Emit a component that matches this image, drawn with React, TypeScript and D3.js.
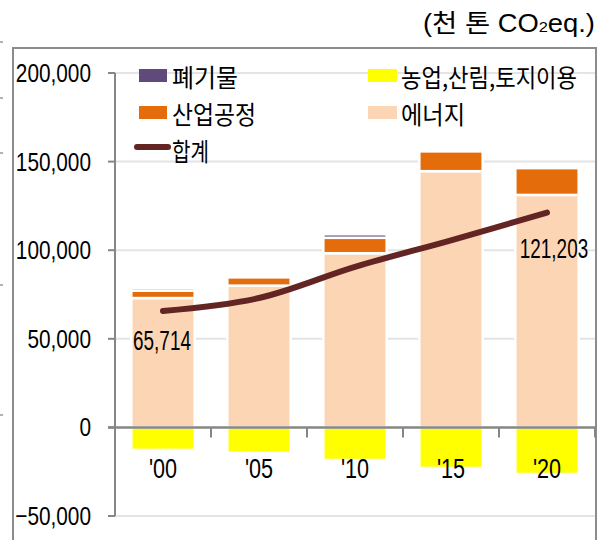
import React from "react";
import * as d3 from "d3";

const years = ["'00", "'05", "'10", "'15", "'20"];
const energy = [73000, 80000, 98300, 144600, 131200];
const industrial = [4200, 4800, 8700, 11300, 15200];
const waste = [1500, 1400, 2000, 1100, 700];
const lulucf = [-12700, -14400, -18400, -22900, -26300];
const total = [65714, 73000, 90600, 105600, 121203];
const yTicks = [-50000, 0, 50000, 100000, 150000, 200000];
const labelled = [0, 4];

const seriesKeys = ["energy", "industrial", "waste", "lulucf"];
const seriesColors: Record<string, string> = {
  energy: "#FCD5B5",
  industrial: "#E46C0A",
  waste: "#604A7B",
  lulucf: "#FFFF00",
};

const W = 604;
const H = 540;
const NUM_FONT = "'Liberation Sans', Arial, sans-serif";
const KR_FONT = "'Noto Sans CJK KR', sans-serif";

export default function App() {
  const x = d3.scaleBand<string>().domain(years).range([115, 595]).paddingInner(0.34).paddingOuter(0.17);
  const y = d3.scaleLinear().domain([-50000, 200000]).range([516, 73]);

  const rows = years.map((yr, i) => ({
    year: yr,
    energy: energy[i],
    industrial: industrial[i],
    waste: waste[i],
    lulucf: lulucf[i],
  }));
  const stacked = d3
    .stack<any>()
    .keys(seriesKeys)
    .offset(d3.stackOffsetDiverging)(rows);

  const line = d3
    .line<number>()
    .x((_, i) => (x(years[i]) as number) + x.bandwidth() / 2)
    .y((d) => y(d))
    .curve(d3.curveCatmullRom.alpha(0.5));

  const step = x.step();
  const boundaries = d3.range(years.length + 1).map((i) => 115 + i * step);
  const fmt = d3.format(",");

  const edgeMarks = [42, 98, 153, 285, 415];

  return (
    <svg width={W} height={H} style={{ position: "absolute", left: 0, top: 0, background: "#fff" }}>
      {/* left edge artifacts */}
      {edgeMarks.map((m) => (
        <line key={m} x1={0} x2={3} y1={m} y2={m} stroke="#999" strokeWidth={1.5} />
      ))}
      {/* unit */}
      <text x={423} y={32} fontFamily={`'Liberation Sans', ${KR_FONT}`} fontSize={25} fill="#000" textLength={172} lengthAdjust="spacingAndGlyphs">
        (천 톤 CO<tspan fontSize={15}>2</tspan>eq.)
      </text>
      {/* frame */}
      <rect x={13} y={48} width={583} height={520} fill="none" stroke="#8c8c8c" strokeWidth={2} />

      {/* gridlines */}
      {yTicks
        .filter((t) => t !== 0)
        .map((t) => (
          <line key={t} x1={115} x2={595} y1={y(t)} y2={y(t)} stroke="#e4e4e4" strokeWidth={2} />
        ))}

      {/* bars */}
      {stacked.map((s) => (
        <g key={s.key} fill={seriesColors[s.key]}>
          {s.map((d, i) => {
            const y0 = y(d[0]);
            const y1 = y(d[1]);
            return (
              <rect
                key={i}
                x={x(years[i])}
                width={x.bandwidth()}
                y={Math.min(y0, y1)}
                height={Math.abs(y0 - y1)}
                stroke="#fff"
                strokeWidth={2.5}
              />
            );
          })}
        </g>
      ))}

      {/* y axis */}
      <line x1={115} x2={115} y1={y(200000)} y2={y(-50000)} stroke="#868686" strokeWidth={2} />
      {yTicks.map((t) => (
        <g key={t}>
          <line x1={108} x2={115} y1={y(t)} y2={y(t)} stroke="#868686" strokeWidth={2} />
          <text
            transform={`translate(91,${y(t) + 9}) scale(0.8,1)`}
            textAnchor="end"
            fontFamily={NUM_FONT}
            fontSize={26}
            fill="#000"
          >
            {fmt(t)}
          </text>
        </g>
      ))}

      {/* x axis */}
      <line x1={108} x2={596} y1={y(0)} y2={y(0)} stroke="#868686" strokeWidth={2.5} />
      {boundaries.slice(1).map((b, i) => (
        <line key={i} x1={b} x2={b} y1={y(0)} y2={y(0) + 10} stroke="#868686" strokeWidth={2} />
      ))}
      {years.map((yr) => (
        <text
          key={yr}
          transform={`translate(${(x(yr) as number) + x.bandwidth() / 2},478) scale(0.8,1)`}
          textAnchor="middle"
          fontFamily={NUM_FONT}
          fontSize={27}
          fill="#000"
        >
          {yr}
        </text>
      ))}

      {/* total line */}
      <path d={line(total) as string} fill="none" stroke="#632523" strokeWidth={6} strokeLinecap="round" strokeLinejoin="round" />
      {labelled.map((i) => (
        <text
          key={i}
          transform={`translate(${(x(years[i]) as number) + x.bandwidth() / 2 - (i === 0 ? 1 : -7)},${y(total[i]) + (i === 0 ? 39 : 45)}) scale(0.7,1)`}
          textAnchor="middle"
          fontFamily={NUM_FONT}
          fontSize={27}
          fill="#000"
        >
          {fmt(total[i])}
        </text>
      ))}

      {/* legend */}
      <g>
        <rect x={139} y={69} width={28} height={13} fill={seriesColors.waste} />
        <text x={172} y={76} dominantBaseline="central" fontFamily={KR_FONT} fontSize={25} textLength={66} lengthAdjust="spacingAndGlyphs">폐기물</text>
        <rect x={139} y={106} width={28} height={13} fill={seriesColors.industrial} />
        <text x={172} y={113} dominantBaseline="central" fontFamily={KR_FONT} fontSize={25} textLength={84} lengthAdjust="spacingAndGlyphs">산업공정</text>
        <line x1={137} x2={168} y1={147} y2={147} stroke="#632523" strokeWidth={6} strokeLinecap="round" />
        <text x={172} y={150} dominantBaseline="central" fontFamily={KR_FONT} fontSize={25} textLength={37} lengthAdjust="spacingAndGlyphs">합계</text>
        <rect x={368} y={69} width={29} height={13} fill={seriesColors.lulucf} />
        <text x={401} y={76} dominantBaseline="central" fontFamily={KR_FONT} fontSize={25} textLength={176} lengthAdjust="spacingAndGlyphs">농업,산림,토지이용</text>
        <rect x={368} y={106} width={29} height={13} fill={seriesColors.energy} />
        <text x={401} y={113} dominantBaseline="central" fontFamily={KR_FONT} fontSize={25} textLength={64} lengthAdjust="spacingAndGlyphs">에너지</text>
      </g>
    </svg>
  );
}
